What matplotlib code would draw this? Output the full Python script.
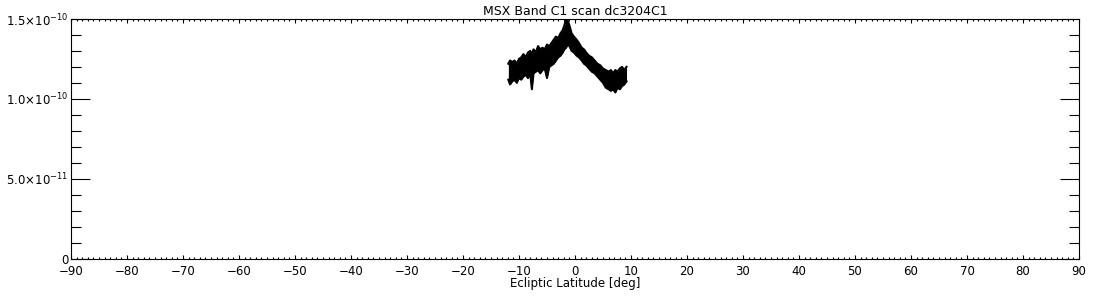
import matplotlib
matplotlib.use("Agg")
import matplotlib.pyplot as plt
from matplotlib.ticker import MultipleLocator, FixedLocator

# Data: envelope of the dense scan trace
lat = [-11.9, -11.6, -11.2, -10.8, -10.4, -10.0, -9.6, -9.2, -8.8, -8.4, -8.0, -7.7,
       -7.4, -7.0, -6.6, -6.2, -5.8, -5.4, -5.0, -4.6, -4.2, -3.8, -3.4, -3.0, -2.6,
       -2.2, -1.9, -1.6, -1.3, -1.0, -0.6, -0.2, 0.3, 0.7, 1.2, 1.6, 2.0, 2.5, 3.0,
       3.5, 4.0, 4.5, 5.0, 5.5, 6.0, 6.4, 6.8, 7.2, 7.6, 8.0, 8.4, 8.8, 9.2]
upper = [122, 124, 123, 124, 122, 125, 126, 128, 126, 129, 130, 128,
         131, 129, 133, 131, 132, 131, 134, 133, 135, 137, 139, 138, 141,
         143, 146, 150, 149, 146, 141, 139, 137, 135, 132, 131, 129, 127, 126,
         124, 122, 121, 119, 118, 117, 118, 116, 118, 117, 119, 120, 118, 120]
lower = [112, 109, 111, 112, 110, 113, 112, 114, 115, 113, 116, 106,
         116, 117, 118, 116, 118, 119, 113, 120, 121, 122, 124, 126, 127,
         129, 131, 132, 134, 133, 130, 129, 127, 126, 124, 122, 121, 119, 117,
         116, 114, 112, 110, 107, 106, 105, 106, 104, 107, 106, 108, 109, 111]
scale = 1e-12

title = "MSX Band C1 scan dc3204C1"
xlabel = "Ecliptic Latitude [deg]"
xticks = list(range(-90, 91, 10))
yticks = [0, 5e-11, 1e-10, 1.5e-10]
yticklabels = ["0", r"5.0$\times$10$^{-11}$", r"1.0$\times$10$^{-10}$", r"1.5$\times$10$^{-10}$"]

fig = plt.figure(figsize=(11, 3), dpi=100)
ax = fig.add_axes([71/1100, 1 - 258.5/300, (1079 - 71)/1100, (258.5 - 19)/300])

up = [u * scale for u in upper]
lo = [l * scale for l in lower]
ax.fill_between(lat, lo, up, color="black", linewidth=0)
ax.plot(lat, up, color="black", linewidth=1.5)
ax.plot(lat, lo, color="black", linewidth=1.5)

ax.set_xlim(-90, 90)
ax.set_ylim(0, 1.5e-10)
ax.xaxis.set_major_locator(FixedLocator(xticks))
ax.xaxis.set_minor_locator(MultipleLocator(1))
ax.yaxis.set_major_locator(FixedLocator(yticks))
ax.yaxis.set_minor_locator(MultipleLocator(1e-11))
ax.set_xticklabels([f"{t:d}".replace("-", "\u2212") for t in xticks])
ax.set_yticklabels(yticklabels)

ax.tick_params(axis="x", which="major", direction="in", length=3, width=0.8,
               top=True, bottom=True, labelsize=8.5, pad=5)
ax.tick_params(axis="x", which="minor", direction="in", length=1.3, width=0.8,
               top=True, bottom=True)
ax.tick_params(axis="y", which="major", direction="in", length=13.7, width=0.8,
               left=True, right=True, labelsize=8.5, pad=2)
ax.tick_params(axis="y", which="minor", direction="in", length=7, width=0.8,
               left=True, right=True)
for s in ax.spines.values():
    s.set_linewidth(0.8)

ax.set_title(title, fontsize=9, pad=3)
ax.set_xlabel(xlabel, fontsize=8.5, labelpad=-1)

fig.savefig("out.png", dpi=100)
